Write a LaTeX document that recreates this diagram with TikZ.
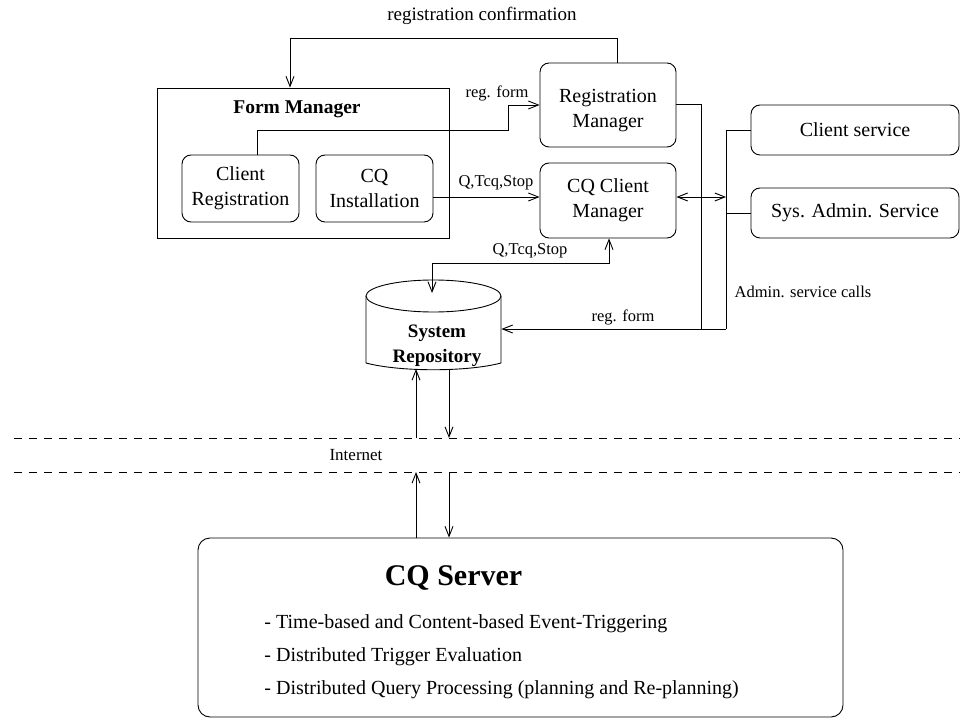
\documentclass[tikz,border=0pt]{standalone}
\usepackage{fontspec}
\setmainfont{Liberation Serif}
\usetikzlibrary{arrows.meta,calc}
\begin{document}
\begin{tikzpicture}[x=1pt,y=-1pt,
  every path/.style={line width=0.9pt},
  box/.style={draw, rounded corners=9pt, inner sep=0pt, align=center,
    font=\fontsize{20}{25}\selectfont},
  plainbox/.style={draw, inner sep=0pt},
  lab/.style={inner sep=0pt, font=\fontsize{16.5}{20}\selectfont},
  bigtxt/.style={inner sep=0pt, align=center, font=\fontsize{20}{25}\selectfont},
  boldtxt/.style={inner sep=0pt, align=center, font=\fontsize{19.5}{25}\selectfont\bfseries},
  bullet/.style={inner sep=0pt, anchor=west, font=\fontsize{20}{24}\selectfont},
  arr/.style={-{Straight Barb[length=10pt,width=8pt]}},
  darr/.style={{Straight Barb[length=10pt,width=8pt]}-{Straight Barb[length=10pt,width=8pt]}},
  dashline/.style={dash pattern=on 8pt off 7pt}
]
\useasboundingbox (0,0) rectangle (960,719);

% boxes
\node[plainbox, minimum width=292pt, minimum height=150pt] (fm) at (303,163) {};
\node[boldtxt] (fmt) at (297,109) {Form Manager};
\node[box, minimum width=117pt, minimum height=67pt] (cr) at (240.5,188.5) {Client\\Registration};
\node[box, minimum width=117pt, minimum height=67pt] (cqi) at (374.5,188.5) {CQ\\Installation};
\node[box, minimum width=136pt, minimum height=84pt] (rm) at (608,105) {};
\node[bigtxt] (rmt) at (608,111) {Registration\\Manager};
\node[box, minimum width=136pt, minimum height=75pt] (cqcm) at (608,200.5) {CQ Client\\Manager};
\node[box, minimum width=208pt, minimum height=50pt] (cs) at (855,130) {Client service};
\node[box, minimum width=208pt, minimum height=50pt] (sa) at (855,213) {Sys. Admin. Service};

% repository (cylinder)
\node[inner sep=0pt, minimum width=135pt, minimum height=90pt] (repo) at (433.5,325) {};
\draw (433.5,296) ellipse [x radius=67.5pt, y radius=16pt];
\draw (366,296) -- (366,363) .. controls (400,372) and (467,372) .. (501,363) -- (501,296);
\node[boldtxt, font=\fontsize{19}{25}\selectfont\bfseries] (repot) at (437,346) {System\\Repository};

% server
\node[draw, rounded corners=12pt, inner sep=0pt, minimum width=645pt, minimum height=179pt] (srv) at (520.5,627.5) {};
\node[inner sep=0pt, font=\fontsize{30}{34}\selectfont\bfseries] (srvt) at (453.5,578) {CQ Server};
\node[bullet] (b1) at (264,624) {- Time-based and Content-based Event-Triggering};
\node[bullet] (b2) at (264,657) {- Distributed Trigger Evaluation};
\node[bullet] (b3) at (264,690) {- Distributed Query Processing (planning and Re-planning)};

% registration confirmation
\coordinate (c1) at (617,38);
\coordinate (c2) at (290,38);
\draw[arr] (rm.north -| c1) -- (c1) -- (c2) -- (c2 |- fm.north);
\node[lab, font=\fontsize{19}{22}\selectfont] (rct) at (482,16) {registration confirmation};

% reg. form (upper)
\coordinate (r1) at (257,130);
\coordinate (r2) at (508,105);
\draw[arr] (cr.north -| r1) -- (r1) -| (r2) -- (r2 -| rm.west);
\node[lab] (rf1) at (497,93) {reg. form};

% Q,Tcq,Stop (upper)
\coordinate (q) at (0,197);
\draw[arr] (cqi.east |- q) -- (cqcm.west |- q);
\node[lab] (qt1) at (496,183) {Q,Tcq,Stop};

% buses
\coordinate (bA) at (701,329);
\coordinate (bBt) at (726,130);
\coordinate (bBb) at (726,329);
\draw (rm.east |- 0,104) -| (bA);
\draw (cs.west |- bBt) -- (bBt) -- (bBb);
\draw (sa.west) -- (sa.west -| bBt);
\draw[darr] (cqcm.east |- q) -- (bBt |- q);
\draw[arr] (bBb) -- (bBb -| repo.east);
\node[lab] (rf2) at (623,317) {reg. form};
\node[lab] (asc) at (803,292) {Admin. service calls};

% Q,Tcq,Stop (lower)
\coordinate (l1) at (609,263);
\coordinate (l2) at (432,263);
\coordinate (l3) at (432,293);
\draw[darr] (l1 |- cqcm.south) -- (l1) -- (l2) -- (l3);
\node[lab] (qt2) at (530,251) {Q,Tcq,Stop};

% internet
\coordinate (d1l) at (14,438);
\coordinate (d1r) at (960,438);
\coordinate (d2l) at (14,472);
\coordinate (d2r) at (960,472);
\draw[dashline] (d1l) -- (d1r);
\draw[dashline] (d2l) -- (d2r);
\node[inner sep=0pt, font=\fontsize{17}{20}\selectfont] (inet) at (356,455) {Internet};

\coordinate (u1) at (416,438);
\coordinate (u1t) at (416,369);
\coordinate (dn1) at (449,369);
\coordinate (dn1b) at (449,438);
\draw[arr] (u1) -- (u1t);
\draw[arr] (dn1) -- (dn1b);
\coordinate (u2) at (416,472);
\coordinate (dn2) at (449,472);
\draw[arr] (u2 |- srv.north) -- (u2);
\draw[arr] (dn2) -- (dn2 |- srv.north);
\end{tikzpicture}
\end{document}
